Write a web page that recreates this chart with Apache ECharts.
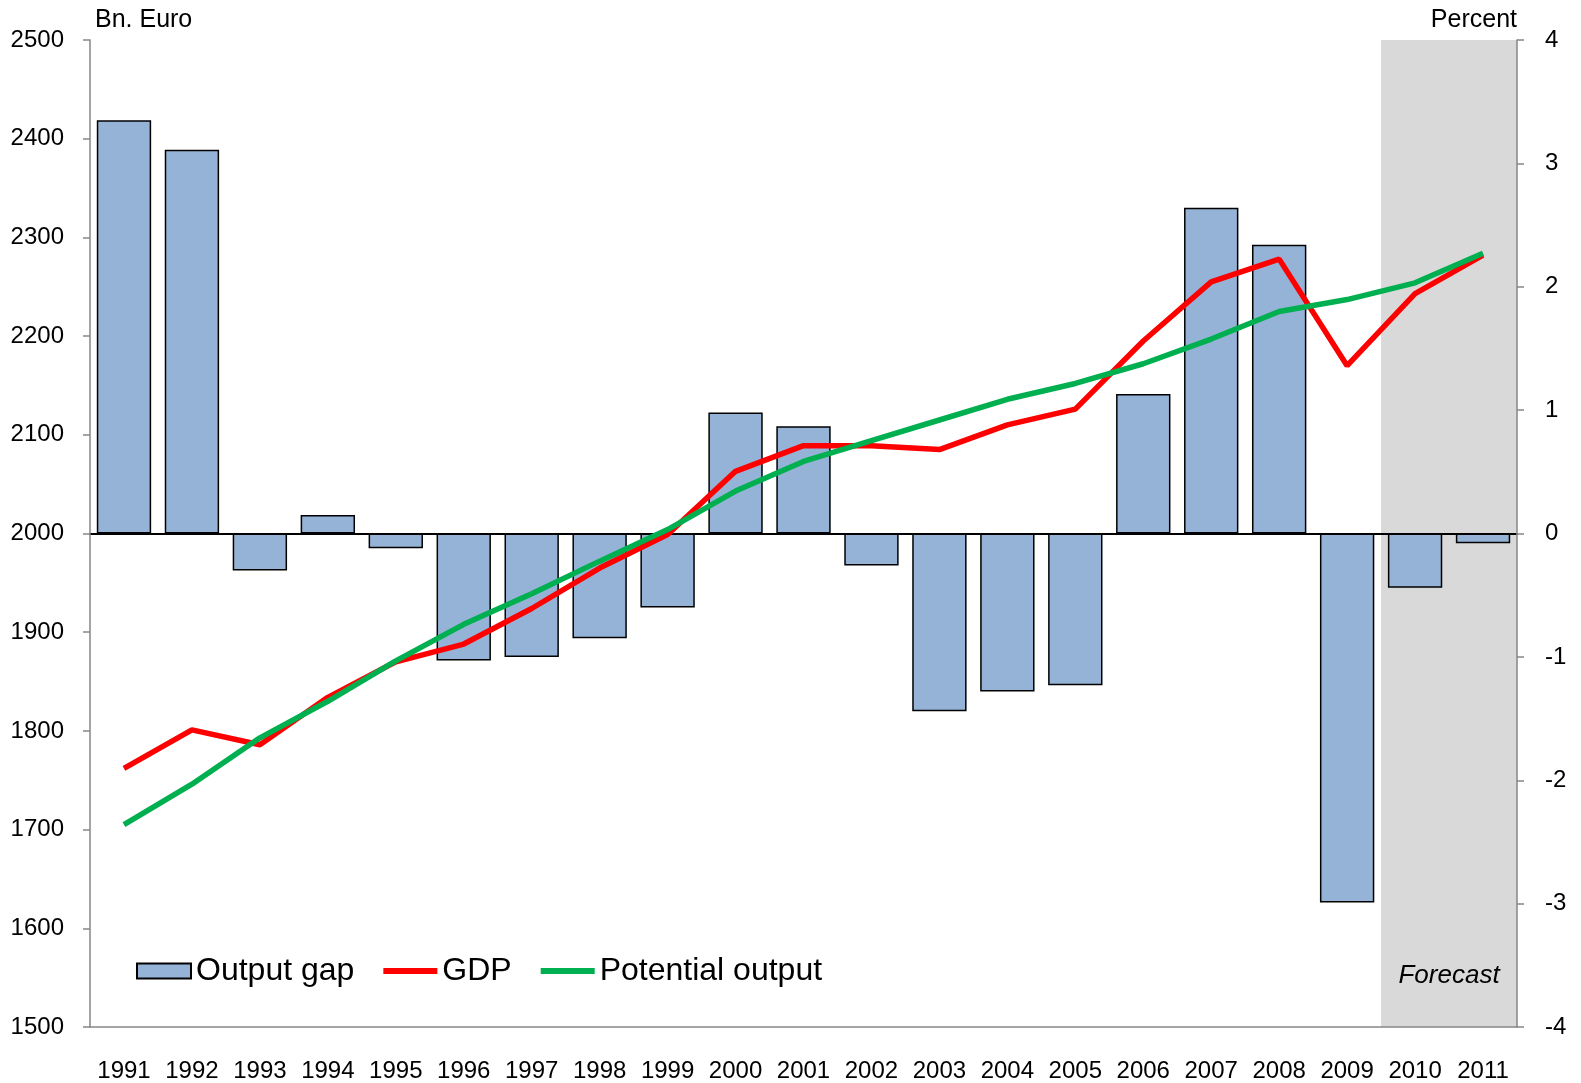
<!DOCTYPE html>
<html>
<head>
<meta charset="utf-8">
<script src="https://cdn.jsdelivr.net/npm/echarts@6/dist/echarts.min.js"></script>
<style>
  html,body{margin:0;padding:0;background:#fff;}
  #chart{width:1581px;height:1083px;}
</style>
</head>
<body>
<div id="chart"></div>
<script>
// years on the x axis
const years = ['1991','1992','1993','1994','1995','1996','1997','1998','1999','2000',
  '2001','2002','2003','2004','2005','2006','2007','2008','2009','2010','2011'];
// output gap, percent (right axis)
const outputGap = [3.35,3.11,-0.30,0.15,-0.12,-1.03,-1.00,-0.85,-0.60,0.98,
  0.87,-0.26,-1.44,-1.28,-1.23,1.13,2.64,2.34,-2.99,-0.44,-0.08];
// GDP, bn euro (left axis)
const gdp = [1762,1801,1786,1834,1870,1888,1924,1965,1999,2063,
  2089,2089,2085,2110,2126,2195,2255,2278,2170,2243,2282];
// potential output, bn euro
const potential = [1705,1746,1793,1830,1871,1908,1939,1972,2004,2043,
  2073,2094,2115,2136,2152,2172,2197,2225,2237,2254,2284];
// forecast years start here
const forecastFrom = '2010';
const forecastLabel = 'Forecast';

const font = "'Liberation Sans', Arial, sans-serif";
const grey = '#868686';
// flat bar used as legend icon for the lines
const lineIcon = 'path://M0 0H54V6H0Z';

const chart = echarts.init(document.getElementById('chart'));
const fIdx = years.indexOf(forecastFrom);

chart.setOption({
  animation:false,
  textStyle:{fontFamily:font},
  grid:{left:90,right:64,top:40,bottom:54},
  legend:{
    data:[
      {name:'Output gap',icon:'rect'},
      {name:'GDP',icon:lineIcon},
      {name:'Potential output',icon:lineIcon}
    ],
    left:131,
    top:950,
    itemWidth:54,
    itemHeight:15,
    itemGap:29,
    textStyle:{fontSize:32,color:'#000',fontFamily:font}
  },
  xAxis:[
    {
      type:'category',
      data:years,
      z:6,
      axisLine:{onZero:false,lineStyle:{color:grey,width:1.5}},
      axisTick:{interval:3,length:8,lineStyle:{color:grey,width:1.5}},
      axisLabel:{interval:0,fontSize:24,color:'#000',margin:32}
    },
    {
      // black zero line of the bar axis
      type:'category',
      data:years,
      z:3,
      axisLine:{onZero:true,onZeroAxisIndex:1,lineStyle:{color:'#000',width:2}},
      axisTick:{show:false},
      axisLabel:{show:false}
    },
    {
      // helper axis for the forecast band
      type:'value',
      min:0,
      max:years.length,
      show:false
    }
  ],
  yAxis:[
    {
      type:'value',
      min:1500,max:2500,interval:100,
      position:'left',
      z:6,
      name:'Bn. Euro',
      nameGap:20,
      nameTextStyle:{fontSize:25,color:'#000',align:'left',verticalAlign:'middle',padding:[0,0,0,5]},
      axisLine:{show:true,lineStyle:{color:grey,width:1.5}},
      axisTick:{show:true,length:7,lineStyle:{color:grey,width:1.5}},
      axisLabel:{fontSize:24,color:'#000',margin:26,formatter:v => String(v)},
      splitLine:{show:false}
    },
    {
      type:'value',
      min:-4,max:4,interval:1,
      position:'right',
      z:6,
      name:'Percent',
      nameGap:20,
      nameTextStyle:{fontSize:25,color:'#000',align:'right',verticalAlign:'middle'},
      axisLine:{show:true,lineStyle:{color:grey,width:1.5}},
      axisTick:{show:true,length:7,lineStyle:{color:grey,width:1.5}},
      axisLabel:{fontSize:24,color:'#000',margin:28},
      splitLine:{show:false}
    }
  ],
  series:[
    {
      name:'forecastBand',
      type:'line',
      xAxisIndex:2,
      yAxisIndex:0,
      data:[],
      z:1,
      markArea:{
        silent:true,
        itemStyle:{color:'#d9d9d9'},
        label:{
          show:true,
          position:'insideBottom',
          distance:38,
          fontSize:26,
          fontStyle:'italic',
          color:'#000'
        },
        data:[[{name:forecastLabel,xAxis:fIdx},{xAxis:years.length}]]
      }
    },
    {
      name:'Output gap',
      type:'bar',
      xAxisIndex:0,
      yAxisIndex:1,
      data:outputGap,
      barCategoryGap:'20%',
      z:2,
      itemStyle:{color:'#95b3d7',borderColor:'#000',borderWidth:1.5}
    },
    {
      name:'GDP',
      type:'line',
      xAxisIndex:0,
      yAxisIndex:0,
      data:gdp,
      symbol:'none',
      z:4,
      itemStyle:{color:'#ff0000'},
      lineStyle:{color:'#ff0000',width:5.5}
    },
    {
      name:'Potential output',
      type:'line',
      xAxisIndex:0,
      yAxisIndex:0,
      data:potential,
      symbol:'none',
      z:5,
      itemStyle:{color:'#00b050'},
      lineStyle:{color:'#00b050',width:5.5}
    }
  ]
});
</script>
</body>
</html>
